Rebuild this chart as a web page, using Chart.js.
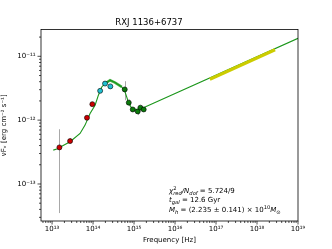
<!DOCTYPE html>
<html>
<head>
<meta charset="utf-8">
<script src="https://cdn.jsdelivr.net/npm/chart.js@4.4.0/dist/chart.umd.min.js"></script>
<style>
  html, body { margin: 0; padding: 0; background: #fff; }
</style>
</head>
<body>
<canvas id="grafico" width="332" height="249"></canvas>
<script>
// photometry: frequency [Hz], nuFnu [erg cm^-2 s^-1], error bar ends
const irFreq = [1.51e13, 2.75e13, 7.1e13, 9.6e13];
const irFlux = [3.74e-13, 4.7e-13, 1.09e-12, 1.78e-12];
const irLow  = [3.5e-14, 4.3e-13, null, null];
const irHigh = [7.2e-13, 5.2e-13, null, null];

const optFreq = [1.49e14, 1.96e14, 2.64e14];
const optFlux = [2.88e-12, 3.74e-12, 3.38e-12];

const uvFreq = [5.93e14, 7.43e14, 9.3e14, 1.23e15, 1.43e15, 1.72e15];
const uvFlux = [3.03e-12, 1.88e-12, 1.47e-12, 1.37e-12, 1.57e-12, 1.47e-12];
const uvLow  = [2.05e-12, 1.65e-12, null, 1.2e-12, null, null];
const uvHigh = [4.07e-12, 2.1e-12, null, 1.5e-12, null, null];

// model SED
const modelFreq = [1.07e13, 1.30e13, 2.75e13, 4.82e13, 6.38e13, 8.45e13, 1.12e14, 1.35e14, 1.63e14, 1.96e14,
                   2.60e14, 3.44e14, 5.01e14, 6.03e14, 7.26e14, 8.79e14, 1.16e15, 1.54e15, 1e19];
const modelFlux = [3.39e-13, 3.52e-13, 4.58e-13, 6.19e-13, 8.36e-13, 1.27e-12, 1.71e-12, 2.46e-12, 3.31e-12, 3.74e-12,
                   4.22e-12, 3.88e-12, 3.31e-12, 2.77e-12, 1.93e-12, 1.52e-12, 1.47e-12, 1.52e-12, 1.91e-11];

// host galaxy band (thick light green) and X-ray band (yellow)
const hostFreq = [1.96e14, 2.60e14, 3.44e14, 5.01e14];
const hostFlux = [3.74e-12, 4.22e-12, 3.88e-12, 3.31e-12];
const xrayFreq = [7.08e16, 2.75e18];
const xrayFlux = [4.37e-12, 1.27e-11];

// axis limits and labelled decades
const xLimits = [5.37e12, 1e19];
const yLimits = [2.63e-14, 2.63e-11];
const xTickExp = [13, 14, 15, 16, 17, 18, 19];
const yTickExp = [-13, -12, -11];

const chartTitle = "RXJ 1136+6737";

function pontos(xs, ys, lo, hi) {
  return xs.map((x, i) => ({ x: x, y: ys[i], lo: lo ? lo[i] : null, hi: hi ? hi[i] : null }));
}

function sup(n) {
  const m = { "-": "⁻", "0": "⁰", "1": "¹", "2": "²", "3": "³", "4": "⁴", "5": "⁵", "6": "⁶", "7": "⁷", "8": "⁸", "9": "⁹" };
  return String(n).split("").map(c => m[c]).join("");
}

const FONTE = "DejaVu Sans";

// error bars
const errorBars = {
  id: "errorBars",
  beforeDatasetsDraw(chart) {
    const ctx = chart.ctx, xs = chart.scales.x, ys = chart.scales.y;
    ctx.save();
    ctx.strokeStyle = "#a8a8a8";
    ctx.lineWidth = 1;
    chart.data.datasets.forEach(ds => {
      ds.data.forEach(p => {
        if (p.lo == null) return;
        const px = Math.round(xs.getPixelForValue(p.x)) + 0.5;
        ctx.beginPath();
        ctx.moveTo(px, ys.getPixelForValue(p.lo));
        ctx.lineTo(px, ys.getPixelForValue(p.hi));
        ctx.stroke();
      });
    });
    ctx.restore();
  }
};

// frame + log ticks, matplotlib style
const moldura = {
  id: "moldura",
  afterDraw(chart) {
    const ctx = chart.ctx, a = chart.chartArea;
    const xs = chart.scales.x, ys = chart.scales.y;
    ctx.save();
    ctx.strokeStyle = "#000";
    ctx.lineWidth = 0.8;
    ctx.strokeRect(a.left, a.top, a.right - a.left, a.bottom - a.top);
    ctx.lineWidth = 0.7;
    for (let e = 12; e <= 19; e++) {
      for (let k = 1; k <= 9; k++) {
        const v = k * Math.pow(10, e);
        if (v < xLimits[0] || v > xLimits[1] * 1.0001) continue;
        const px = xs.getPixelForValue(v);
        ctx.beginPath();
        ctx.moveTo(px, a.bottom);
        ctx.lineTo(px, a.bottom + (k === 1 ? 3.5 : 2));
        ctx.stroke();
      }
    }
    for (let e = -14; e <= -11; e++) {
      for (let k = 1; k <= 9; k++) {
        const v = k * Math.pow(10, e);
        if (v < yLimits[0] || v > yLimits[1]) continue;
        const py = ys.getPixelForValue(v);
        ctx.beginPath();
        ctx.moveTo(a.left, py);
        ctx.lineTo(a.left - (k === 1 ? 3.5 : 2), py);
        ctx.stroke();
      }
    }
    ctx.restore();
  }
};

// fit results text
const anotacao = {
  id: "anotacao",
  afterDraw(chart) {
    const ctx = chart.ctx;
    const base = 7, small = 5.2;
    ctx.save();
    ctx.fillStyle = "#000";
    ctx.textBaseline = "middle";
    function escreve(x, y, partes) {
      partes.forEach(p => {
        const t = p[0], k = p[1];
        if (k === "n" || k === "i") {
          ctx.font = (k === "i" ? "italic " : "") + base + "px " + FONTE;
          ctx.fillText(t, x, y);
          x += ctx.measureText(t).width;
        } else if (k === "sub") {
          ctx.font = "italic " + small + "px " + FONTE;
          ctx.fillText(t, x, y + 2.2);
          x += ctx.measureText(t).width;
        } else if (k === "sup") {
          ctx.font = small + "px " + FONTE;
          ctx.fillText(t, x, y - 2.8);
          x += ctx.measureText(t).width;
        } else if (k === "subsup") {
          ctx.font = small + "px " + FONTE;
          ctx.fillText(t[0], x, y - 2.8);
          const w1 = ctx.measureText(t[0]).width;
          ctx.font = "italic " + small + "px " + FONTE;
          ctx.fillText(t[1], x, y + 2.2);
          x += Math.max(w1, ctx.measureText(t[1]).width);
        }
      });
    }
    const x0 = 169;
    escreve(x0, 191, [["χ", "i"], [["2", "red"], "subsup"], ["/N", "i"], ["dof", "sub"], [" = 5.724/9", "n"]]);
    escreve(x0, 200.5, [["t", "i"], ["gal", "sub"], [" = 12.6 Gyr", "n"]]);
    escreve(x0, 210, [["M", "i"], ["h", "sub"], [" = (2.235 ± 0.141) × 10", "n"], ["10", "sup"], ["M", "i"], ["⊙", "sub"]]);
    ctx.restore();
  }
};

const ctx = document.getElementById("grafico").getContext("2d");
new Chart(ctx, {
  type: "scatter",
  data: {
    datasets: [
      { type: "line", data: pontos(hostFreq, hostFlux), borderColor: "#4db34d", borderWidth: 2.6,
        pointRadius: 0, fill: false, order: 4 },
      { type: "line", data: pontos(modelFreq, modelFlux), borderColor: "#1a961a", borderWidth: 1.1,
        pointRadius: 0, fill: false, order: 3 },
      { type: "line", data: pontos(xrayFreq, xrayFlux), borderColor: "#cccc00", borderWidth: 3.2,
        pointRadius: 0, fill: false, order: 2 },
      { data: pontos(irFreq, irFlux, irLow, irHigh), backgroundColor: "#cc0000", borderColor: "#000",
        borderWidth: 0.6, pointRadius: 2.5, order: 0 },
      { data: pontos(optFreq, optFlux), backgroundColor: "#1fc0d0", borderColor: "#000",
        borderWidth: 0.6, pointRadius: 2.5, order: 0 },
      { data: pontos(uvFreq, uvFlux, uvLow, uvHigh), backgroundColor: "#0a7a0a", borderColor: "#000",
        borderWidth: 0.6, pointRadius: 2.5, order: 0 }
    ]
  },
  options: {
    responsive: false,
    animation: false,
    layout: { padding: { left: 0, right: 34, top: 0, bottom: 0 } },
    plugins: {
      legend: { display: false },
      tooltip: { enabled: false },
      title: {
        display: true,
        text: chartTitle,
        color: "#000",
        font: { family: FONTE, size: 8.5, weight: "normal" },
        padding: { top: 17.5, bottom: 1.8 }
      }
    },
    scales: {
      x: {
        type: "logarithmic",
        min: xLimits[0],
        max: xLimits[1],
        grid: { display: false, tickLength: 0 },
        border: { display: false },
        afterBuildTicks: s => { s.ticks = xTickExp.map(e => ({ value: Math.pow(10, e) })); },
        afterFit: s => { s.height = 28; },
        ticks: {
          autoSkip: false, maxRotation: 0, padding: 4, color: "#000",
          font: { family: FONTE, size: 7 },
          callback: v => "10" + sup(Math.round(Math.log10(v)))
        },
        title: {
          display: true, text: "Frequency [Hz]", color: "#000",
          font: { family: FONTE, size: 7 }, padding: { top: 0, bottom: 5 }
        }
      },
      y: {
        type: "logarithmic",
        min: yLimits[0],
        max: yLimits[1],
        grid: { display: false, tickLength: 0 },
        border: { display: false },
        afterBuildTicks: s => { s.ticks = yTickExp.map(e => ({ value: Math.pow(10, e) })); },
        afterFit: s => { s.width = 41; },
        ticks: {
          autoSkip: false, padding: 5.5, color: "#000",
          font: { family: FONTE, size: 7 },
          callback: v => "10" + sup(Math.round(Math.log10(v)))
        },
        title: {
          display: true, text: "νFᵥ [erg cm⁻² s⁻¹]", color: "#000",
          font: { family: FONTE, size: 7 }, padding: { top: 0, bottom: 5 }
        }
      }
    }
  },
  plugins: [errorBars, moldura, anotacao]
});
</script>
</body>
</html>
